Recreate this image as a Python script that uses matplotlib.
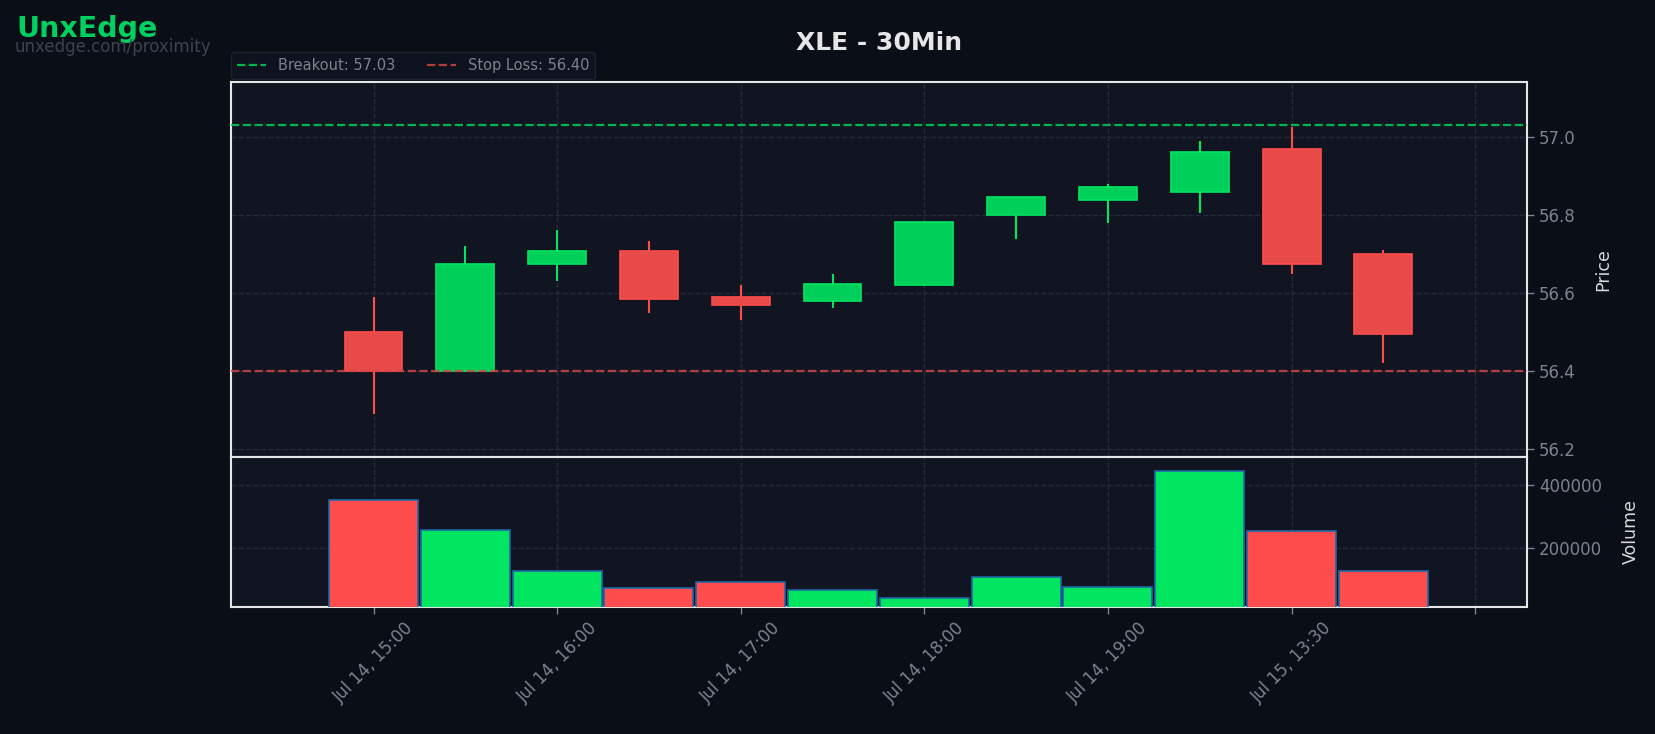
import matplotlib
matplotlib.use("Agg")
import matplotlib.pyplot as plt
import numpy as np

times = ["Jul 14, 15:00", "Jul 14, 15:30", "Jul 14, 16:00", "Jul 14, 16:30",
         "Jul 14, 17:00", "Jul 14, 17:30", "Jul 14, 18:00", "Jul 14, 18:30",
         "Jul 14, 19:00", "Jul 14, 19:30", "Jul 15, 13:30", "Jul 15, 14:00"]
opens = [56.50, 56.40, 56.675, 56.707, 56.59, 56.58, 56.62, 56.80, 56.837, 56.858, 56.969, 56.70]
closes = [56.40, 56.675, 56.707, 56.585, 56.569, 56.623, 56.781, 56.845, 56.870, 56.960, 56.673, 56.496]
highs = [56.589, 56.721, 56.762, 56.734, 56.62, 56.648, 56.781, 56.845, 56.879, 56.989, 57.026, 56.71]
lows = [56.290, 56.398, 56.631, 56.55, 56.531, 56.561, 56.619, 56.739, 56.779, 56.805, 56.649, 56.42]
volumes = [350500, 255000, 128000, 74000, 93000, 65700, 42000, 109000, 77500, 442500, 252000, 128000]
breakout = 57.03
stop_loss = 56.40

bg = "#0a0e17"
axbg = "#111522"
grey = "#7d828d"
green_body, green_edge = "#00cf5a", "#00e660"
red_body, red_edge = "#e84a4a", "#ff4d4d"

o = np.array(opens)
c = np.array(closes)
x = np.arange(len(o))
up = c >= o

fig = plt.figure(figsize=(16.55, 7.34), dpi=100, facecolor=bg)
gs = fig.add_gridspec(2, 1, height_ratios=[374, 150], hspace=0,
                      left=0.1396, right=0.9227, top=0.8883, bottom=0.173)
ax = fig.add_subplot(gs[0])
ax2 = fig.add_subplot(gs[1], sharex=ax)

for a in (ax, ax2):
    a.set_facecolor(axbg)
    a.grid(True, color="#262b38", linestyle="--", linewidth=1)
    a.set_axisbelow(True)
    for s in a.spines.values():
        s.set_color("#e6e6e6")
        s.set_linewidth(1.5)
    a.yaxis.tick_right()
    a.yaxis.set_label_position("right")
    a.tick_params(colors=grey, labelsize=12, length=5, width=1)

# candles
wc = np.where(up, green_edge, red_edge)
ax.vlines(x, lows, highs, colors=wc, linewidth=1.5, zorder=2)
ax.bar(x, np.abs(c - o), bottom=np.minimum(o, c), width=0.63,
       color=np.where(up, green_body, red_body), edgecolor=wc, linewidth=1.2, zorder=3)

ax.axhline(breakout, color="#00c853", linestyle="--", linewidth=1.6, alpha=0.9, zorder=4,
           label="Breakout: %.2f" % breakout)
ax.axhline(stop_loss, color="#d04545", linestyle="--", linewidth=1.6, alpha=0.85, zorder=4,
           label="Stop Loss: %.2f" % stop_loss)

ax.set_ylim(56.181, 57.140)
ax.set_yticks([56.2, 56.4, 56.6, 56.8, 57.0])
ax.set_ylabel("Price", color="#d8d8d8", fontsize=12.5, labelpad=13)
ax.tick_params(axis="x", bottom=False, labelbottom=False)

leg = ax.legend(loc="lower left", bbox_to_anchor=(0, 1.008), ncol=2, fontsize=10.5,
                frameon=True, borderaxespad=0, columnspacing=2.2, handlelength=2.0)
leg.get_frame().set_facecolor("#111522")
leg.get_frame().set_edgecolor("#23283a")
for t in leg.get_texts():
    t.set_color(grey)

# volume
ax2.bar(x, volumes, width=0.97, color=np.where(up, "#00e660", "#ff4d4d"),
        edgecolor="#2166a8", linewidth=1.2, zorder=3)
ax2.set_ylim(12700, 488000)
ax2.set_yticks([200000, 400000])
ax2.set_yticklabels(["200000", "400000"])
ax2.set_ylabel("Volume", color="#d8d8d8", fontsize=12.5, labelpad=14)

ax2.set_xlim(-1.552, 12.565)
ticks = list(range(0, 13, 2))
ax2.set_xticks(ticks)
ax2.set_xticklabels(times[::2] + [""], rotation=45, fontsize=12)

fig.text(0.531, 0.941, "XLE - 30Min", color="#e6e6e6", fontsize=18,
         fontweight="bold", ha="center", va="center")
fig.text(0.0097, 0.949, "UnxEdge", color="#00d060", fontsize=20.5,
         fontweight="bold", ha="left", va="baseline")
fig.text(0.009, 0.929, "unxedge.com/proximity", color="#3d424e", fontsize=12,
         ha="left", va="baseline")

fig.savefig("out.png", dpi=100, facecolor=bg)
